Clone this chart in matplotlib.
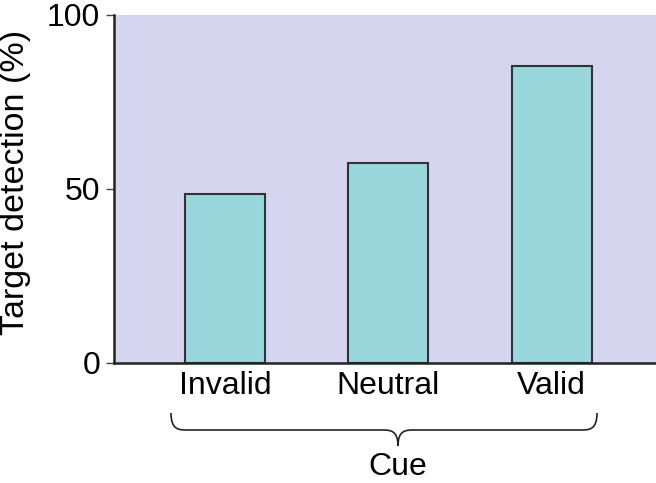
import matplotlib
matplotlib.use("Agg")
import matplotlib.pyplot as plt
from matplotlib.patches import PathPatch
from matplotlib.path import Path

cues = ["Invalid", "Neutral", "Valid"]
detection = [48.6, 57.6, 85.4]
yticks = [0, 50, 100]

BG = "#d5d5ef"
BAR = "#98d8dc"

plt.rcParams.update({"font.family": ["Liberation Sans", "DejaVu Sans"], "font.size": 23})

W, H = 656, 483
fig = plt.figure(figsize=(W / 100, H / 100), dpi=100)
ax = fig.add_axes([114 / W, (H - 363) / H, 1 - 114 / W, (363 - 15) / H])
ax.set_facecolor(BG)

ax.bar(range(len(cues)), detection, width=0.49, color=BAR,
       edgecolor="#333333", linewidth=1.5)
ax.set_xlim(-0.68, 2.64)
ax.set_ylim(0, 100)
ax.set_yticks(yticks)
ax.set_xticks(range(len(cues)))
ax.set_xticklabels(cues)
ax.tick_params(axis="x", length=0, pad=6)
ax.tick_params(axis="y", length=6, width=1.0, pad=4, color="#444444")
ax.set_ylabel("Target detection (%)", fontsize=24.5)
ax.yaxis.set_label_coords(-0.153, 0.52)
for s in ("top", "right"):
    ax.spines[s].set_visible(False)
for s in ("left", "bottom"):
    ax.spines[s].set_linewidth(1.8)
    ax.spines[s].set_color("#222222")


def px(x, y):
    return (x / W, (H - y) / H)


# curly brace under the category labels
xl, xr, xc = 171, 597, 398
y0, ym, yt = 413, 430, 446
verts = [px(xl, y0), px(xl, ym), px(xl + 8, ym), px(xl + 16, ym),
         px(xc - 16, ym),
         px(xc - 8, ym), px(xc, ym), px(xc, yt),
         px(xc, ym), px(xc + 8, ym), px(xc + 16, ym),
         px(xr - 16, ym),
         px(xr - 8, ym), px(xr, ym), px(xr, y0)]
codes = [Path.MOVETO, Path.CURVE4, Path.CURVE4, Path.CURVE4,
         Path.LINETO,
         Path.CURVE4, Path.CURVE4, Path.CURVE4,
         Path.CURVE4, Path.CURVE4, Path.CURVE4,
         Path.LINETO,
         Path.CURVE4, Path.CURVE4, Path.CURVE4]
fig.add_artist(PathPatch(Path(verts, codes), transform=fig.transFigure,
                         fill=False, edgecolor="#222222", linewidth=1.2))
fig.text(*px(xc, 467), "Cue", ha="center", va="center")

fig.savefig("out.png", dpi=100)
